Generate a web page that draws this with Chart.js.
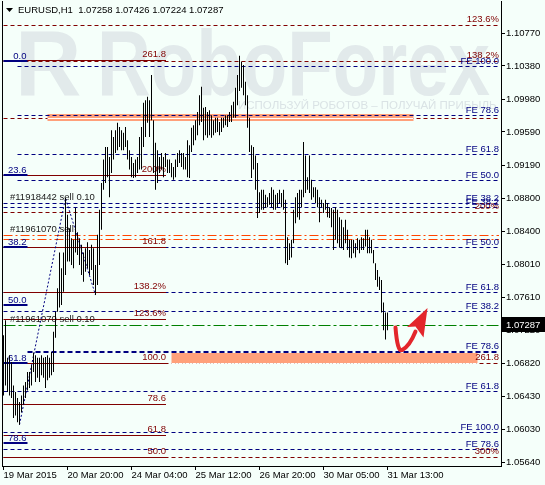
<!DOCTYPE html>
<html>
<head>
<meta charset="utf-8">
<script src="https://cdn.jsdelivr.net/npm/chart.js@4.4.1/dist/chart.umd.min.js"></script>
<style>
  html, body { margin: 0; padding: 0; background: #f5fffa; }
  #wrap { width: 545px; height: 485px; }
</style>
</head>
<body>
<div id="wrap"><canvas id="chart" width="545" height="485"></canvas></div>
<script>
/* EURUSD H1 — hourly bars with Fibonacci levels */
const symbol    = 'EURUSD,H1';
const lastOHLC  = [1.07258, 1.07426, 1.07224, 1.07287];

const timeTicks  = [0, 32, 64, 96, 128, 160, 192];
const timeLabels = ['19 Mar 2015', '20 Mar 20:00', '24 Mar 04:00', '25 Mar 12:00', '26 Mar 20:00', '30 Mar 05:00', '31 Mar 13:00'];
const priceTicks = [1.10770, 1.10380, 1.09980, 1.09590, 1.09190, 1.08800, 1.08400, 1.08010, 1.07610, 1.07220, 1.06820, 1.06430, 1.06030, 1.05640];

// bar highs / lows, one per hour
const highs = [
  1.0716, 1.0734, 1.0689, 1.0692, 1.0684, 1.0656, 1.0648, 1.0641, 1.0636, 1.0644,
  1.0656, 1.0660, 1.0672, 1.0672, 1.0680, 1.0695, 1.0692, 1.0689, 1.0689, 1.0692,
  1.0689, 1.0690, 1.0692, 1.0689, 1.0696, 1.0720, 1.0744, 1.0772, 1.0815, 1.0796,
  1.0815, 1.0880, 1.0860, 1.0844, 1.0832, 1.0830, 1.0868, 1.0839, 1.0832, 1.0824,
  1.0815, 1.0820, 1.0827, 1.0818, 1.0824, 1.0820, 1.0800, 1.0836, 1.0866, 1.0898,
  1.0926, 1.0941, 1.0941, 1.0929, 1.0961, 1.0953, 1.0961, 1.0970, 1.0965, 1.0961,
  1.0958, 1.0965, 1.0949, 1.0937, 1.0929, 1.0922, 1.0926, 1.0929, 1.0953, 1.0965,
  1.0994, 1.0997, 1.1001, 1.0997, 1.1027, 1.0973, 1.0946, 1.0937, 1.0929, 1.0934,
  1.0929, 1.0934, 1.0926, 1.0926, 1.0922, 1.0917, 1.0926, 1.0934, 1.0937, 1.0934,
  1.0934, 1.0929, 1.0949, 1.0943, 1.0964, 1.0967, 1.0973, 1.0983, 1.1003, 1.1013,
  1.0988, 1.0989, 1.0983, 1.0985, 1.0979, 1.0973, 1.0976, 1.0976, 1.0971, 1.0976,
  1.0976, 1.0979, 1.0979, 1.0983, 1.0991, 1.0995, 1.1012, 1.1027, 1.1050, 1.1043,
  1.1039, 1.1019, 1.1003, 1.0976, 1.0943, 1.0941, 1.0931, 1.0922, 1.0887, 1.0890,
  1.0890, 1.0884, 1.0881, 1.0886, 1.0893, 1.0890, 1.0884, 1.0886, 1.0890, 1.0886,
  1.0890, 1.0878, 1.0833, 1.0826, 1.0830, 1.0866, 1.0881, 1.0886, 1.0890, 1.0890,
  1.0947, 1.0931, 1.0905, 1.0931, 1.0902, 1.0893, 1.0893, 1.0890, 1.0881, 1.0878,
  1.0874, 1.0878, 1.0874, 1.0869, 1.0868, 1.0866, 1.0869, 1.0866, 1.0857, 1.0854,
  1.0845, 1.0854, 1.0842, 1.0830, 1.0830, 1.0830, 1.0826, 1.0832, 1.0830, 1.0833,
  1.0832, 1.0842, 1.0842, 1.0833, 1.0830, 1.0818, 1.0802, 1.0794, 1.0786, 1.0782,
  1.0755, 1.0743, 1.0743
];
const lows = [
  1.0644, 1.0656, 1.0648, 1.0644, 1.0641, 1.0617, 1.0620, 1.0612, 1.0609, 1.0624,
  1.0633, 1.0641, 1.0650, 1.0653, 1.0656, 1.0672, 1.0660, 1.0665, 1.0660, 1.0668,
  1.0665, 1.0653, 1.0662, 1.0665, 1.0668, 1.0672, 1.0713, 1.0744, 1.0749, 1.0752,
  1.0768, 1.0788, 1.0804, 1.0804, 1.0800, 1.0796, 1.0815, 1.0812, 1.0800, 1.0788,
  1.0780, 1.0792, 1.0796, 1.0788, 1.0794, 1.0776, 1.0764, 1.0776, 1.0800, 1.0842,
  1.0890, 1.0898, 1.0905, 1.0881, 1.0910, 1.0926, 1.0934, 1.0937, 1.0941, 1.0937,
  1.0937, 1.0941, 1.0926, 1.0914, 1.0905, 1.0904, 1.0905, 1.0910, 1.0914, 1.0914,
  1.0941, 1.0953, 1.0970, 1.0953, 1.0973, 1.0910, 1.0890, 1.0898, 1.0910, 1.0914,
  1.0905, 1.0917, 1.0910, 1.0910, 1.0905, 1.0902, 1.0905, 1.0917, 1.0922, 1.0917,
  1.0914, 1.0914, 1.0905, 1.0904, 1.0935, 1.0943, 1.0949, 1.0955, 1.0967, 1.0971,
  1.0949, 1.0955, 1.0952, 1.0955, 1.0952, 1.0955, 1.0958, 1.0959, 1.0955, 1.0959,
  1.0964, 1.0967, 1.0965, 1.0971, 1.0971, 1.0976, 1.0976, 1.0991, 1.1008, 1.1012,
  1.1003, 1.0991, 1.0964, 1.0935, 1.0904, 1.0914, 1.0890, 1.0856, 1.0862, 1.0866,
  1.0866, 1.0868, 1.0869, 1.0872, 1.0869, 1.0866, 1.0866, 1.0869, 1.0874, 1.0869,
  1.0866, 1.0802, 1.0800, 1.0806, 1.0809, 1.0826, 1.0850, 1.0857, 1.0854, 1.0869,
  1.0881, 1.0886, 1.0890, 1.0886, 1.0878, 1.0881, 1.0874, 1.0869, 1.0851, 1.0869,
  1.0862, 1.0866, 1.0857, 1.0856, 1.0845, 1.0818, 1.0830, 1.0826, 1.0821, 1.0820,
  1.0818, 1.0826, 1.0818, 1.0809, 1.0808, 1.0814, 1.0809, 1.0818, 1.0814, 1.0818,
  1.0818, 1.0822, 1.0814, 1.0814, 1.0814, 1.0802, 1.0782, 1.0774, 1.0770, 1.0743,
  1.0722, 1.0711, 1.0722
];

// A-B-C swing of the expansion (bar indexes)
const swingBars = [8, 31, 46];

// navy Fibonacci expansion levels, labelled on the right
const feLevels = [1.10379, 1.09793, 1.09326, 1.09016, 1.08741, 1.08693, 1.08214, 1.07682, 1.07449, 1.06492, 1.06002, 1.05799];
const feLabels = ['FE 100.0', 'FE 78.6', 'FE 61.8', 'FE 50.0', 'FE 38.2', 'FE 38.2', 'FE 50.0', 'FE 61.8', 'FE 38.2', 'FE 61.8', 'FE 100.0', 'FE 78.6'];
const feFrom   = [7, 7, 7, 7, 0, 0, 0, 0, 0, 0, 0, 0];
const supportLevel = 1.06959, supportLabel = 'FE 78.6', supportFrom = 12;

// maroon expansion levels (dashed, full width)
const expLevels = [1.10869, 1.10439, 1.09757, 1.08633, 1.06827, 1.05709];
const expLabels = ['123.6%', '138.2%', '', '200%', '261.8', '300%'];

// maroon retracement grid on the left (solid)
const retLevels = [1.10445, 1.09075, 1.08214, 1.07676, 1.07354, 1.06827, 1.06337, 1.05966, 1.05709];
const retLabels = ['261.8', '200%', '161.8', '138.2%', '123.6%', '100.0', '78.6', '61.8', '50.0'];
const retTo = 81.25;

// navy retracement grid on the left
const fibLevels = [1.10439, 1.09075, 1.08214, 1.07521, 1.06827, 1.05871];
const fibLabels = ['0.0', '23.6', '38.2', '50.0', '61.8', '78.6'];
const fibTo = 12;

// target zones
const zoneHi   = [1.0980, 1.06953];
const zoneLo   = [1.0972, 1.06833];
const zoneFrom = [22, 84];
const zoneTo   = [205, 237];

// order lines
const orderLevels = [1.08358, 1.08310];
const orderTagLevels = [1.08741, 1.08358, 1.07287];
const orderTags = ['#11918442 sell 0.10', '#11961070 sell', '#11961070 sell 0.10'];

const brand   = 'RoboForex';
const tagline = 'ИСПОЛЬЗУЙ РОБОТОВ – ПОЛУЧАЙ ПРИБЫЛЬ';

const NAVY = '#000080', MAROON = '#800000', ORANGE = '#ff4500', GREEN = '#008000', SALMON = '#ffa07a';
const FONT = "'Liberation Sans', Arial, sans-serif";

function hline(ctx, x0, x1, y, color, dash, width) {
  const yy = width % 2 ? Math.round(y) + 0.5 : Math.round(y);
  ctx.save();
  ctx.strokeStyle = color;
  ctx.lineWidth = width || 1;
  ctx.setLineDash(dash || []);
  ctx.beginPath();
  ctx.moveTo(x0, yy);
  ctx.lineTo(x1, yy);
  ctx.stroke();
  ctx.restore();
}

function label(ctx, text, x, y, color, align) {
  ctx.fillStyle = color;
  ctx.textAlign = align;
  ctx.textBaseline = 'alphabetic';
  ctx.fillText(text, x, Math.round(y) - 2);
}

const levelsPlugin = {
  id: 'levels',
  beforeDraw(chart) {
    const c = chart.ctx;
    c.save();
    c.fillStyle = '#f5fffa';
    c.fillRect(0, 0, chart.width, chart.height);
    c.restore();
  },
  beforeDatasetsDraw(chart) {
    const { ctx, chartArea: a } = chart;
    const X = v => chart.scales.x.getPixelForValue(v);
    const Y = v => chart.scales.y.getPixelForValue(v);
    const xL = X(0), xR = a.right - 2, xRet = X(retTo);

    ctx.save();
    ctx.beginPath();
    ctx.rect(a.left, a.top, a.right - a.left, a.bottom - a.top);
    ctx.clip();

    // watermark
    ctx.fillStyle = '#e2eaeb';
    ctx.font = 'bold 92px ' + FONT;
    ctx.textBaseline = 'alphabetic';
    ctx.textAlign = 'left';
    ctx.fillText('R', 15, 95);
    const bw = ctx.measureText(brand).width;
    ctx.save();
    ctx.translate(97, 95);
    ctx.scale(393 / bw, 1);
    ctx.fillText(brand, 0, 0);
    ctx.restore();
    ctx.fillStyle = '#dae3e5';
    ctx.font = '11.5px ' + FONT;
    ctx.textBaseline = 'middle';
    ctx.fillText(tagline, 238, 106);

    // zones
    zoneHi.forEach((hi, k) => {
      const x0 = X(zoneFrom[k]), x1 = X(zoneTo[k]);
      const y0 = Math.round(Y(hi)), y1 = Math.round(Y(zoneLo[k]));
      ctx.fillStyle = SALMON;
      ctx.fillRect(x0, y0, x1 - x0, y1 - y0);
    });

    expLevels.forEach(p => hline(ctx, xL, xR, Y(p), MAROON, [4, 3], 1));
    // lines crossing a zone show white inside it
    zoneHi.forEach((hi, k) => {
      expLevels.forEach(p => {
        if (p <= hi + 0.00002 && p >= zoneLo[k] - 0.0001) {
          hline(ctx, X(zoneFrom[k]), X(zoneTo[k]), Y(p), '#ffffff', k === 0 ? [] : [4, 3], 1);
        }
      });
    });

    feLevels.forEach((p, k) => hline(ctx, X(feFrom[k]), xR, Y(p), NAVY, [4, 3], 1));
    hline(ctx, X(supportFrom), xR, Y(supportLevel), NAVY, [5, 3], 2);
    orderLevels.forEach(p => hline(ctx, xL, xR, Y(p), ORANGE, [9, 3, 2, 3], 1));
    hline(ctx, xL, xR, Y(lastOHLC[3]), GREEN, [12, 3, 3, 3], 1);
    retLevels.forEach(p => hline(ctx, xL, xRet, Y(p), MAROON, [], 1));
    fibLevels.forEach(p => hline(ctx, xL, X(fibTo), Y(p), NAVY, [], 2));

    // labels
    ctx.font = '9.5px ' + FONT;
    expLabels.forEach((t, k) => { if (t) label(ctx, t, xR, Y(expLevels[k]) - 1, MAROON, 'right'); });
    feLabels.forEach((t, k) => label(ctx, t, xR, Y(feLevels[k]), NAVY, 'right'));
    label(ctx, supportLabel, xR, Y(supportLevel) - 1, NAVY, 'right');
    retLabels.forEach((t, k) => label(ctx, t, xRet, Y(retLevels[k]) - 1, MAROON, 'right'));
    fibLabels.forEach((t, k) => label(ctx, t, X(fibTo) - 1, Y(fibLevels[k]), NAVY, 'right'));
    orderTags.forEach((t, k) => label(ctx, t, X(3.25), Y(orderTagLevels[k]) - 1, '#1a1a1a', 'left'));

    ctx.restore();
  },
  afterDraw(chart) {
    const { ctx, chartArea: a } = chart;
    const X = v => chart.scales.x.getPixelForValue(v);
    const Y = v => chart.scales.y.getPixelForValue(v);

    ctx.save();
    // left frame
    ctx.strokeStyle = '#000';
    ctx.lineWidth = 1;
    ctx.beginPath();
    ctx.moveTo(a.left + 0.5, a.top);
    ctx.lineTo(a.left + 0.5, a.bottom);
    ctx.stroke();

    // header
    ctx.fillStyle = '#000';
    ctx.beginPath();
    ctx.moveTo(6, 8); ctx.lineTo(13, 8); ctx.lineTo(9.5, 12); ctx.closePath();
    ctx.fill();
    ctx.font = '9.5px ' + FONT;
    ctx.textAlign = 'left';
    ctx.textBaseline = 'middle';
    ctx.fillText(symbol + '  ' + lastOHLC.map(v => v.toFixed(5)).join(' '), 18, 10.5);

    // current price box
    const yb = Y(lastOHLC[3]);
    ctx.fillRect(a.right + 1, Math.round(yb) - 8, chart.width - a.right - 1, 15);
    ctx.fillStyle = '#fff';
    ctx.fillText(lastOHLC[3].toFixed(5), a.right + 5, Math.round(yb));

    // red arrow next to the last bar
    const ax = X(highs.length - 1), ay = yb;
    ctx.strokeStyle = '#e3262b';
    ctx.fillStyle = '#e3262b';
    ctx.lineWidth = 4;
    ctx.lineCap = 'round';
    ctx.beginPath();
    ctx.moveTo(ax + 8, ay + 3);
    ctx.quadraticCurveTo(ax + 10, ay + 28, ax + 14.5, ay + 25.5);
    ctx.quadraticCurveTo(ax + 22, ay + 22, ax + 28, ay + 7);
    ctx.stroke();
    ctx.beginPath();
    ctx.moveTo(ax + 40, ay - 16.5);
    ctx.lineTo(ax + 19.5, ay + 2.5);
    ctx.lineTo(ax + 28, ay + 2);
    ctx.lineTo(ax + 36, ay + 13);
    ctx.closePath();
    ctx.fill();
    ctx.restore();
  }
};

function fitScale(w, h) {
  return scale => {
    if (w) scale.width = w;
    if (h) scale.height = h;
    scale.paddingLeft = scale.paddingRight = scale.paddingTop = scale.paddingBottom = 0;
  };
}

new Chart(document.getElementById('chart'), {
  type: 'bar',
  data: {
    datasets: [
      {
        type: 'bar',
        data: highs.map((h, i) => ({ x: i, y: [lows[i], h] })),
        backgroundColor: '#000',
        borderWidth: 0,
        barThickness: 1,
        inflateAmount: 0,
        order: 0
      },
      {
        type: 'line',
        data: [
          { x: swingBars[0], y: lows[swingBars[0]] },
          { x: swingBars[1], y: highs[swingBars[1]] },
          { x: swingBars[2], y: lows[swingBars[2]] }
        ],
        borderColor: NAVY,
        borderWidth: 1,
        borderDash: [2, 2],
        pointRadius: 0,
        fill: false,
        tension: 0,
        order: 1
      }
    ]
  },
  options: {
    responsive: false,
    devicePixelRatio: 1,
    animation: false,
    events: [],
    layout: { padding: { left: 2, top: 1, right: 0, bottom: 0 }, autoPadding: false },
    plugins: { legend: { display: false }, tooltip: { enabled: false } },
    scales: {
      x: {
        type: 'linear',
        offset: false,
        bounds: 'ticks',
        min: -0.75,
        max: 248.75,
        afterFit: fitScale(0, 19),
        afterBuildTicks: s => { s.ticks = timeTicks.map(v => ({ value: v })); },
        grid: { offset: false, drawOnChartArea: false, drawTicks: true, tickLength: 4, color: '#000' },
        border: { display: true, color: '#000' },
        ticks: {
          autoSkip: false, maxRotation: 0, minRotation: 0, align: 'start', padding: 0,
          color: '#000', font: { family: FONT, size: 9.5 },
          callback: v => timeLabels[timeTicks.indexOf(v)]
        }
      },
      y: {
        type: 'linear',
        position: 'right',
        min: 1.05596,
        max: 1.11156,
        afterFit: fitScale(44, 0),
        afterBuildTicks: s => { s.ticks = priceTicks.map(v => ({ value: v })); },
        grid: { drawOnChartArea: false, drawTicks: true, tickLength: 4, color: '#000' },
        border: { display: true, color: '#000' },
        ticks: {
          autoSkip: false, padding: 1,
          color: '#000', font: { family: FONT, size: 9.5 },
          callback: v => v.toFixed(5)
        }
      }
    }
  },
  plugins: [levelsPlugin]
});
</script>
</body>
</html>
